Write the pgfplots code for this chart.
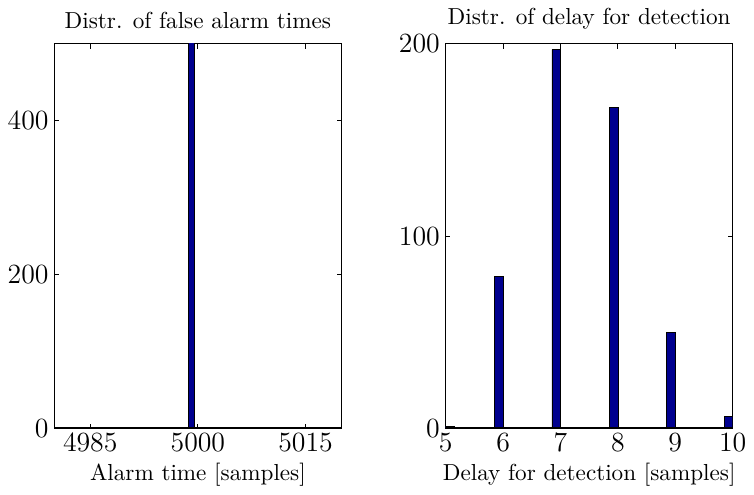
\documentclass[border=0pt]{standalone}
\usepackage{pgfplots}
\pgfplotsset{compat=1.18}

\definecolor{histblue}{rgb}{0,0,0.56}

\pgfplotsset{
  histstyle/.style={
    scale only axis,
    width=124pt,
    height=166pt,
    tick align=inside,
    major tick length=2pt,
    xtick pos=both,
    ytick pos=both,
    axis line style={line width=0.5pt},
    tick style={black, line width=0.4pt},
    tick label style={font=\large},
    title style={yshift=-3pt},
    xlabel style={yshift=2pt},
    xticklabel style={yshift=1pt},
    yticklabel style={xshift=1pt},
    ymin=0,
    scaled ticks=false,
    clip=true,
  }
}

\begin{document}
\begin{tikzpicture}
  % false alarm times
  \begin{axis}[
      histstyle,
      title={Distr. of false alarm times},
      xlabel={Alarm time [samples]},
      xmin=4980, xmax=5020,
      xtick={4985,5000,5015},
      ymax=500,
      ytick={0,200,400},
      xticklabel style={/pgf/number format/1000 sep={}},
    ]
    \addplot[ybar, bar width=0.85, bar shift=0pt, fill=histblue, draw=black, line width=0.3pt]
      coordinates {(4999.1,520)};
    \addplot[black, line width=1pt] coordinates {(4980,0) (5020,0)};
  \end{axis}

  % detection delay
  \begin{axis}[
      histstyle,
      at={(169pt,0)},
      title={Distr. of delay for detection},
      xlabel={Delay for detection [samples]},
      xmin=5, xmax=10,
      xtick={5,6,7,8,9,10},
      ymax=200,
      ytick={0,100,200},
    ]
    \addplot[ybar, bar width=0.15, bar shift=0pt, fill=histblue, draw=black, line width=0.3pt]
      coordinates {
        (5.075,1)
        (5.925,79)
        (6.925,197)
        (7.925,167)
        (8.925,50)
        (9.925,6)
      };
    \addplot[black, line width=1pt] coordinates {(5,0) (10,0)};
  \end{axis}
\end{tikzpicture}
\end{document}
